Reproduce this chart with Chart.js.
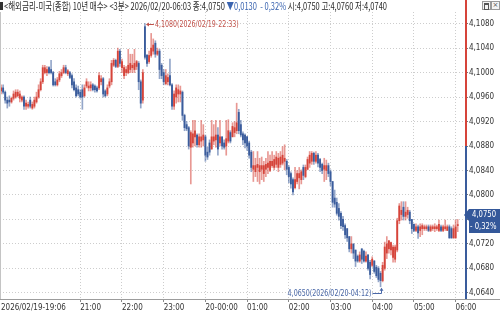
<!DOCTYPE html>
<html>
<head>
<meta charset="utf-8">
<script src="https://cdn.jsdelivr.net/npm/chart.js@4/dist/chart.umd.min.js"></script>
<style>
  html,body{margin:0;padding:0;background:#fff;}
  #wrap{position:relative;width:500px;height:314px;overflow:hidden;}
  #c{position:absolute;left:0;top:0;}
  #hdr{position:absolute;left:0;top:0;height:12px;width:480px;z-index:2;}
  #blk{position:absolute;left:0;top:2px;width:3px;height:8px;background:#333;}
  #ht{position:absolute;left:4px;top:-1px;white-space:pre;font-family:"Noto Sans CJK KR","Noto Sans",sans-serif;font-size:10px;line-height:13px;color:#2a2a2a;transform-origin:0 0;}
  #ht .dn{color:#3a64b0;}
  .ic{position:absolute;top:1px;width:7px;height:7px;border:1px solid #9a9a9a;background:#f4f4f4;font:7px/7px "DejaVu Sans",sans-serif;color:#555;text-align:center;}
</style>
</head>
<body>
<div id="wrap">
  <canvas id="c" width="500" height="314"></canvas>
  <div id="hdr"><div id="blk"></div><span id="ht">&lt;해외금리-미국(종합) 10년 매수&gt; &lt;3분&gt; 2026/02/20-06:03 종:4,0750 <span class="dn">▼0,0130  - 0,32%</span> 시:4,0750 고:4,0760 저:4,0740</span></div>
  <div class="ic" style="left:482px;"><div style="margin:1px;height:4px;border:1px solid #555;border-top-width:2px;"></div></div>
  <div class="ic" style="left:491px;">×</div>
</div>
<script>
// ---- data (3-minute bars, 2026/02/19 19:06 -> 2026/02/20 06:03) ----
const startDate = '2026/02/19';
const nextDate = '2026/02/20';
const startMinutes = 19 * 60 + 6;   // 19:06
const barMinutes = 3;
const prevClose = 4.0880;
const yTicks = [4.0640, 4.0680, 4.0720, 4.0760, 4.0800, 4.0840, 4.0880, 4.0920, 4.0960, 4.1000, 4.1040, 4.1080];

const opens = [
  4.0970,4.0975,4.0968,4.0955,4.0955,4.0952,4.0958,4.0960,4.0962,4.0958,
  4.0955,4.0960,4.0945,4.0945,4.0955,4.0942,4.0945,4.0952,4.0960,4.0972,
  4.0985,4.1000,4.1000,4.1008,4.1005,4.1000,4.0985,4.0980,4.0988,4.0995,
  4.1000,4.1008,4.0998,4.1000,4.0995,4.0985,4.0975,4.0972,4.0968,4.0972,
  4.0962,4.0978,4.0975,4.0975,4.0980,4.0978,4.0975,4.0975,4.0985,4.0990,
  4.0970,4.0965,4.0978,4.0985,4.1012,4.1020,4.1010,4.1035,4.1008,4.0995,
  4.1000,4.1000,4.1005,4.1008,4.1005,4.1010,4.1015,4.0985,4.0955,4.1075,
  4.1028,4.1018,4.1028,4.1035,4.1048,4.1030,4.1035,4.1012,4.1000,4.0982,
  4.0985,4.0995,4.0980,4.0945,4.0960,4.0965,4.0965,4.0968,4.0930,4.0915,
  4.0910,4.0878,4.0885,4.0895,4.0898,4.0882,4.0888,4.0890,4.0895,4.0870,
  4.0885,4.0875,4.0888,4.0890,4.0898,4.0885,4.0895,4.0885,4.0880,4.0888,
  4.0902,4.0895,4.0902,4.0905,4.0935,4.0915,4.0900,4.0898,4.0895,4.0885,
  4.0870,4.0842,4.0838,4.0845,4.0838,4.0842,4.0835,4.0842,4.0845,4.0840,
  4.0848,4.0845,4.0850,4.0845,4.0850,4.0852,4.0855,4.0855,4.0845,4.0835,
  4.0825,4.0812,4.0822,4.0828,4.0825,4.0845,4.0830,4.0842,4.0852,4.0855,
  4.0868,4.0855,4.0865,4.0858,4.0850,4.0842,4.0840,4.0848,4.0838,4.0822,
  4.0795,4.0788,4.0778,4.0770,4.0760,4.0750,4.0745,4.0732,4.0712,4.0720,
  4.0710,4.0700,4.0692,4.0712,4.0708,4.0692,4.0702,4.0690,4.0685,4.0692,
  4.0682,4.0680,4.0672,4.0660,4.0680,4.0705,4.0712,4.0710,4.0698,4.0695,
  4.0710,4.0758,4.0768,4.0780,4.0765,4.0768,4.0772,4.0760,4.0752,4.0742,
  4.0748,4.0742,4.0745,4.0745,4.0745,4.0748,4.0742,4.0745,4.0745,4.0745,
  4.0742,4.0748,4.0742,4.0745,4.0742,4.0748,4.0745,4.0730,4.0730,4.0750
];
const highs = [
  4.0980,4.0980,4.0970,4.0960,4.0962,4.0960,4.0970,4.0972,4.0972,4.0970,
  4.0962,4.0962,4.0955,4.0952,4.0960,4.0952,4.0960,4.0968,4.0980,4.0990,
  4.1012,4.1012,4.1010,4.1010,4.1020,4.1002,4.0990,4.0992,4.1002,4.1005,
  4.1012,4.1012,4.1005,4.1002,4.0998,4.0990,4.0980,4.0978,4.0972,4.0980,
  4.0980,4.0990,4.0985,4.0985,4.0982,4.0980,4.0978,4.1000,4.0995,4.0992,
  4.0972,4.0980,4.0990,4.1020,4.1023,4.1022,4.1040,4.1038,4.1022,4.1012,
  4.1010,4.1038,4.1030,4.1030,4.1038,4.1020,4.1018,4.0988,4.1005,4.1080,
  4.1030,4.1035,4.1064,4.1055,4.1052,4.1040,4.1038,4.1015,4.1005,4.1005,
  4.0998,4.1022,4.0982,4.0970,4.0980,4.0980,4.0978,4.0970,4.0932,4.0920,
  4.0912,4.0905,4.0922,4.0922,4.0900,4.0900,4.0922,4.0915,4.0898,4.0878,
  4.0890,4.0922,4.0915,4.0922,4.0910,4.0922,4.0895,4.0890,4.0922,4.0923,
  4.0905,4.0918,4.0920,4.0950,4.0940,4.0922,4.0903,4.0900,4.0896,4.0888,
  4.0873,4.0871,4.0860,4.0871,4.0860,4.0862,4.0855,4.0860,4.0871,4.0865,
  4.0871,4.0865,4.0871,4.0868,4.0871,4.0879,4.0882,4.0858,4.0848,4.0838,
  4.0828,4.0845,4.0840,4.0845,4.0841,4.0849,4.0849,4.0862,4.0871,4.0871,
  4.0870,4.0871,4.0868,4.0860,4.0852,4.0860,4.0857,4.0852,4.0841,4.0822,
  4.0808,4.0795,4.0786,4.0773,4.0765,4.0753,4.0745,4.0732,4.0732,4.0720,
  4.0710,4.0702,4.0707,4.0712,4.0710,4.0707,4.0702,4.0693,4.0699,4.0693,
  4.0685,4.0683,4.0675,4.0690,4.0723,4.0732,4.0726,4.0723,4.0718,4.0718,
  4.0762,4.0786,4.0789,4.0789,4.0789,4.0780,4.0775,4.0760,4.0753,4.0753,
  4.0751,4.0753,4.0753,4.0751,4.0751,4.0751,4.0751,4.0751,4.0753,4.0751,
  4.0759,4.0751,4.0751,4.0759,4.0751,4.0751,4.0748,4.0751,4.0759,4.0760
];
const lows = [
  4.0965,4.0965,4.0950,4.0942,4.0945,4.0950,4.0955,4.0958,4.0960,4.0952,
  4.0952,4.0940,4.0940,4.0942,4.0942,4.0940,4.0942,4.0950,4.0958,4.0970,
  4.0982,4.0998,4.0995,4.0998,4.0998,4.0978,4.0978,4.0978,4.0985,4.0992,
  4.0998,4.0998,4.0995,4.0990,4.0975,4.0970,4.0960,4.0962,4.0958,4.0940,
  4.0960,4.0975,4.0970,4.0970,4.0970,4.0968,4.0968,4.0972,4.0980,4.0960,
  4.0960,4.0962,4.0975,4.0980,4.1010,4.1008,4.1008,4.1010,4.1000,4.0990,
  4.0995,4.0998,4.1000,4.1000,4.1000,4.1005,4.0972,4.0942,4.0950,4.1022,
  4.1010,4.1015,4.1025,4.1030,4.1025,4.1028,4.0990,4.0990,4.0980,4.0980,
  4.0980,4.0978,4.0940,4.0940,4.0950,4.0952,4.0952,4.0922,4.0905,4.0905,
  4.0875,4.0818,4.0878,4.0880,4.0878,4.0878,4.0878,4.0880,4.0855,4.0858,
  4.0865,4.0875,4.0882,4.0878,4.0865,4.0880,4.0875,4.0875,4.0865,4.0885,
  4.0885,4.0895,4.0895,4.0900,4.0900,4.0895,4.0882,4.0877,4.0873,4.0860,
  4.0838,4.0822,4.0830,4.0822,4.0818,4.0825,4.0822,4.0830,4.0835,4.0838,
  4.0845,4.0841,4.0845,4.0838,4.0845,4.0849,4.0841,4.0833,4.0820,4.0811,
  4.0800,4.0810,4.0818,4.0810,4.0818,4.0825,4.0828,4.0841,4.0845,4.0850,
  4.0850,4.0852,4.0846,4.0838,4.0835,4.0822,4.0825,4.0830,4.0815,4.0780,
  4.0780,4.0767,4.0759,4.0745,4.0742,4.0729,4.0724,4.0707,4.0705,4.0696,
  4.0683,4.0690,4.0690,4.0688,4.0690,4.0690,4.0677,4.0663,4.0683,4.0672,
  4.0665,4.0658,4.0650,4.0658,4.0677,4.0696,4.0705,4.0702,4.0690,4.0690,
  4.0707,4.0753,4.0759,4.0759,4.0759,4.0762,4.0753,4.0737,4.0740,4.0740,
  4.0729,4.0732,4.0735,4.0742,4.0742,4.0740,4.0740,4.0742,4.0740,4.0742,
  4.0740,4.0740,4.0740,4.0742,4.0742,4.0729,4.0729,4.0729,4.0729,4.0740
];
const closes = [
  4.0975,4.0968,4.0955,4.0950,4.0952,4.0958,4.0965,4.0968,4.0968,4.0965,
  4.0960,4.0945,4.0950,4.0948,4.0945,4.0948,4.0955,4.0960,4.0972,4.0985,
  4.1008,4.1008,4.1005,4.1000,4.1000,4.0980,4.0980,4.0988,4.0998,4.1000,
  4.1008,4.1000,4.1003,4.0992,4.0980,4.0972,4.0962,4.0965,4.0960,4.0960,
  4.0975,4.0985,4.0978,4.0980,4.0972,4.0972,4.0970,4.0995,4.0990,4.0965,
  4.0962,4.0975,4.0985,4.1015,4.1020,4.1010,4.1035,4.1015,4.1018,4.1008,
  4.1005,4.1012,4.1015,4.1012,4.1015,4.1018,4.0985,4.0950,4.1000,4.1025,
  4.1015,4.1028,4.1040,4.1045,4.1030,4.1035,4.1005,4.0995,4.0985,4.0995,
  4.0992,4.0980,4.0945,4.0965,4.0975,4.0972,4.0970,4.0930,4.0910,4.0908,
  4.0880,4.0902,4.0900,4.0905,4.0882,4.0895,4.0895,4.0898,4.0865,4.0862,
  4.0870,4.0895,4.0895,4.0898,4.0875,4.0895,4.0880,4.0878,4.0892,4.0905,
  4.0888,4.0912,4.0910,4.0918,4.0905,4.0898,4.0890,4.0885,4.0880,4.0865,
  4.0845,4.0848,4.0848,4.0850,4.0848,4.0848,4.0848,4.0850,4.0852,4.0855,
  4.0855,4.0858,4.0862,4.0860,4.0862,4.0865,4.0860,4.0842,4.0830,4.0818,
  4.0805,4.0825,4.0835,4.0835,4.0838,4.0832,4.0845,4.0858,4.0865,4.0868,
  4.0855,4.0865,4.0852,4.0845,4.0840,4.0848,4.0848,4.0835,4.0822,4.0788,
  4.0785,4.0770,4.0765,4.0750,4.0748,4.0735,4.0730,4.0712,4.0720,4.0705,
  4.0692,4.0692,4.0702,4.0695,4.0692,4.0700,4.0680,4.0670,4.0695,4.0675,
  4.0668,4.0662,4.0660,4.0685,4.0715,4.0720,4.0725,4.0722,4.0715,4.0715,
  4.0758,4.0782,4.0775,4.0765,4.0772,4.0775,4.0758,4.0745,4.0742,4.0748,
  4.0738,4.0748,4.0750,4.0748,4.0748,4.0742,4.0748,4.0748,4.0748,4.0748,
  4.0752,4.0742,4.0748,4.0748,4.0748,4.0730,4.0730,4.0745,4.0748,4.0750
];
const emptySlots = 3; // blank room right of the last bar

// ---- categories (bar timestamps) ----
const pad2 = n => String(n).padStart(2, '0');
const stamps = [];
for (let i = 0; i < closes.length + emptySlots; i++) {
  const m = startMinutes + i * barMinutes;
  const day = m >= 1440 ? nextDate : startDate;
  const mm = m % 1440;
  stamps.push({ day, hh: pad2(Math.floor(mm / 60)), mi: pad2(mm % 60) });
}
const categories = stamps.map(s => s.day + '-' + s.hh + ':' + s.mi);
const firstLabelRoom = 30; // hour marks this close to the first label are not shown
function tickText(i) {
  const s = stamps[i];
  if (!s || i >= closes.length) return '';
  if (i === 0) return s.day + '-' + s.hh + ':' + s.mi;
  if (s.mi !== '00' || i < firstLabelRoom) return '';
  if (s.hh === '00') return s.day.slice(8) + '-00:00';
  return s.hh + ':00';
}
const isHour = i => i > 0 && tickText(i) !== '';

const UP = '#d6443a', DN = '#3a5c9c';
const UP_W = 'rgba(214,68,58,0.55)', DN_W = 'rgba(58,92,156,0.55)';
const isUp = closes.map((c, i) => c >= opens[i]);
const fmt = v => v.toFixed(4).replace('.', ',');
const FONT = "'Liberation Sans Narrow','DejaVu Sans Condensed','Liberation Sans',sans-serif";

// condensed text helper
function narrowText(ctx, text, x, y, align, sx) {
  ctx.save();
  ctx.translate(x, y);
  ctx.scale(sx, 1);
  ctx.textAlign = align;
  ctx.fillText(text, 0, 0);
  ctx.restore();
}

const overlay = {
  id: 'overlay',
  afterDraw(chart) {
    const { ctx, chartArea: a, scales: { x, y } } = chart;
    ctx.save();
    // left border
    ctx.strokeStyle = '#c4c4c4'; ctx.lineWidth = 1;
    ctx.beginPath(); ctx.moveTo(0.5, a.top); ctx.lineTo(0.5, a.bottom); ctx.stroke();
    // bottom axis line
    ctx.strokeStyle = '#9c9c9c';
    ctx.beginPath(); ctx.moveTo(0, Math.round(a.bottom) + 0.5); ctx.lineTo(500, Math.round(a.bottom) + 0.5); ctx.stroke();
    // right axis line: red above previous close, blue below
    const yp = y.getPixelForValue(prevClose);
    const xr = a.right + 1;
    ctx.lineWidth = 2;
    ctx.strokeStyle = UP; ctx.beginPath(); ctx.moveTo(xr, 0); ctx.lineTo(xr, yp); ctx.stroke();
    ctx.strokeStyle = DN; ctx.beginPath(); ctx.moveTo(xr, yp); ctx.lineTo(xr, a.bottom); ctx.stroke();

    ctx.font = '9px ' + FONT;
    ctx.textBaseline = 'middle';
    ctx.lineWidth = 1;
    // max marker
    let iMax = 0, iMin = 0;
    highs.forEach((v, i) => { if (v > highs[iMax]) iMax = i; });
    lows.forEach((v, i) => { if (v < lows[iMin]) iMin = i; });
    let px = x.getPixelForValue(iMax), py = Math.round(y.getPixelForValue(highs[iMax])) + 0.5;
    ctx.strokeStyle = ctx.fillStyle = '#c2524a';
    ctx.beginPath(); ctx.moveTo(px + 2, py); ctx.lineTo(px + 9, py); ctx.stroke();
    ctx.beginPath(); ctx.moveTo(px + 1, py); ctx.lineTo(px + 4, py - 2); ctx.lineTo(px + 4, py + 2); ctx.closePath(); ctx.fill();
    narrowText(ctx, fmt(highs[iMax]) + '(' + categories[iMax] + ')', px + 10, py, 'left', 0.78);
    // min marker
    px = Math.round(x.getPixelForValue(iMin)) + 0.5;
    const pyLow = y.getPixelForValue(lows[iMin]);
    py = Math.round(pyLow + 6) + 0.5;
    ctx.strokeStyle = ctx.fillStyle = '#4a68a8';
    ctx.beginPath(); ctx.moveTo(px - 9, py); ctx.lineTo(px, py); ctx.lineTo(px, pyLow + 2); ctx.stroke();
    ctx.beginPath(); ctx.moveTo(px, pyLow + 1); ctx.lineTo(px - 2, pyLow + 4); ctx.lineTo(px + 2, pyLow + 4); ctx.closePath(); ctx.fill();
    narrowText(ctx, fmt(lows[iMin]) + '(' + categories[iMin] + ')', px - 10, py, 'right', 0.78);

    // current price box
    const last = closes[closes.length - 1];
    const yc = Math.round(y.getPixelForValue(last)) - 5;
    const xl = a.right + 1;
    ctx.fillStyle = '#34589a';
    ctx.beginPath();
    ctx.moveTo(xl - 2, yc - 6); ctx.lineTo(xl + 3, yc - 12); ctx.lineTo(500, yc - 12);
    ctx.lineTo(500, yc + 12); ctx.lineTo(xl + 3, yc + 12); ctx.lineTo(xl + 3, yc); ctx.closePath();
    ctx.fill();
    ctx.fillStyle = '#ffffff';
    const pct = (last - prevClose) / prevClose * 100;
    narrowText(ctx, fmt(last), xl + 6, yc - 6, 'left', 0.85);
    narrowText(ctx, (pct < 0 ? '- ' : '+ ') + Math.abs(pct).toFixed(2).replace('.', ',') + '%', xl + 4, yc + 6, 'left', 0.85);
    ctx.restore();
  }
};

new Chart(document.getElementById('c'), {
  type: 'bar',
  data: {
    labels: categories,
    datasets: [
      {
        label: 'body',
        data: opens.map((o, i) => [o, closes[i]]),
        backgroundColor: isUp.map(u => u ? UP : DN),
        barThickness: 1.2,
        minBarLength: 1,
        grouped: false,
        borderWidth: 0,
        order: 0
      },
      {
        label: 'wick',
        data: lows.map((l, i) => [l, highs[i]]),
        backgroundColor: isUp.map(u => u ? UP_W : DN_W),
        barThickness: 1,
        grouped: false,
        borderWidth: 0,
        order: 1
      }
    ]
  },
  options: {
    responsive: false,
    animation: false,
    events: [],
    layout: { padding: { top: 12, left: 0, right: 0, bottom: 0 } },
    plugins: { legend: { display: false }, tooltip: { enabled: false } },
    scales: {
      x: {
        type: 'category',
        offset: true,
        afterFit: s => { s.height = 15; },
        border: { display: false, dash: [1, 2] },
        grid: {
          offset: false,
          color: c => isHour(c.index) ? '#cdcdcd' : 'rgba(0,0,0,0)',
          tickColor: c => isHour(c.index) ? '#8a8a8a' : 'rgba(0,0,0,0)',
          tickLength: 3,
          lineWidth: 1
        },
        ticks: {
          autoSkip: false, maxRotation: 0, minRotation: 0, align: 'start', padding: 1,
          color: '#333', font: { family: FONT, size: 8 },
          callback: (v, i) => tickText(i)
        }
      },
      y: {
        position: 'right',
        min: 4.0630,
        max: 4.1099,
        afterBuildTicks: s => { s.ticks = yTicks.map(v => ({ value: v })); },
        afterFit: s => { s.width = 35; },
        border: { display: false, dash: [1, 2] },
        grid: { color: '#cdcdcd', tickColor: '#777', tickLength: 3, lineWidth: 1 },
        ticks: { padding: 1, color: '#333', font: { family: FONT, size: 8 }, callback: v => fmt(v) }
      }
    }
  },
  plugins: [overlay]
});

// fit header line to its width in the reference
function fitHeader() {
  const ht = document.getElementById('ht');
  ht.style.transform = 'none';
  const w = ht.getBoundingClientRect().width;
  ht.style.transform = 'scaleX(' + (383 / w) + ')';
}
fitHeader();
if (document.fonts && document.fonts.ready) document.fonts.ready.then(fitHeader);
</script>
</body>
</html>
